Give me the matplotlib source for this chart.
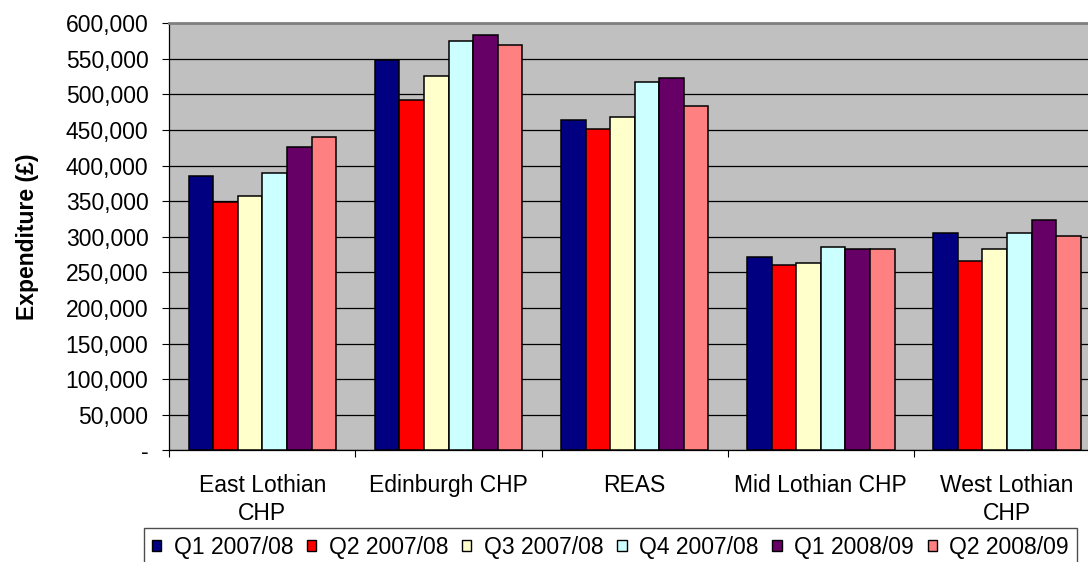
import matplotlib.pyplot as plt
import numpy as np
from matplotlib.patches import Patch
from matplotlib.ticker import FuncFormatter

plt.rcParams['font.family'] = ['Liberation Sans', 'DejaVu Sans']

# expenditure per provider and quarter
providers = ['East Lothian\nCHP', 'Edinburgh CHP', 'REAS', 'Mid Lothian CHP', 'West Lothian\nCHP']
quarters = ['Q1 2007/08', 'Q2 2007/08', 'Q3 2007/08', 'Q4 2007/08', 'Q1 2008/09', 'Q2 2008/09']

q1_0708 = [386000, 549000, 463500, 272000, 306000]
q2_0708 = [349000, 492000, 452000, 260500, 266000]
q3_0708 = [358000, 526500, 469000, 263500, 283000]
q4_0708 = [389000, 575000, 518000, 286000, 306000]
q1_0809 = [426000, 584000, 523000, 283000, 323500]
q2_0809 = [440500, 569000, 483500, 283000, 300500]

series = [q1_0708, q2_0708, q3_0708, q4_0708, q1_0809, q2_0809]
colours = ['#000080', '#FF0000', '#FFFFCC', '#CCFFFF', '#660066', '#FF8080']

W, H = 1088, 562
fig = plt.figure(figsize=(W / 100, H / 100), dpi=100)
ax = fig.add_axes([169.3 / W, 1 - 450.3 / H, (1100 - 169.3) / W, (450.3 - 23.3) / H])
ax.set_facecolor('#C0C0C0')

x = np.arange(len(providers))
bw = 0.132
for i, (vals, col) in enumerate(zip(series, colours)):
    ax.bar(x + (i - 2.5) * bw, vals, bw, color=col, edgecolor='black',
           linewidth=1.1, zorder=3)

ax.set_xlim(-0.5, len(providers) - 0.5)
ax.set_ylim(0, 600000)
ax.set_yticks(np.arange(0, 600001, 50000))
ax.yaxis.set_major_formatter(FuncFormatter(lambda v, p: '-' if v == 0 else f'{int(v):,}'))
ax.yaxis.grid(True, color='black', linewidth=0.9, zorder=1)

# category labels between the boundary ticks
ax.set_xticks(np.arange(-0.5, len(providers), 1.0))
ax.set_xticklabels([])
ax.set_xticks(x, minor=True)
ax.set_xticklabels(providers, minor=True, fontsize=16.5, linespacing=1.3)
ax.tick_params(axis='x', which='minor', length=0, pad=17)
ax.tick_params(axis='x', which='major', length=5, width=0.8, direction='out')
ax.tick_params(axis='y', length=5, width=0.8, direction='out', labelsize=16.5, pad=10)

ax.spines['top'].set_color('#808080')
ax.spines['top'].set_linewidth(2)
ax.spines['right'].set_visible(False)
ax.spines['left'].set_linewidth(0.9)
ax.spines['bottom'].set_linewidth(0.9)

fig.text(28 / W, 1 - 237 / H, 'Expenditure (£)', rotation=90, fontsize=16.5,
         fontweight='bold', ha='center', va='center')

handles = [Patch(facecolor=c, edgecolor='black', linewidth=1.0) for c in colours]
leg = fig.legend(handles, quarters, loc='upper left', bbox_to_anchor=(144 / W, 1 - 527.5 / H),
                 ncol=6, fontsize=16.5, frameon=True, fancybox=False, borderaxespad=0,
                 handlelength=0.4, handleheight=0.4, handletextpad=0.55, columnspacing=0.6,
                 borderpad=0.35)
leg.get_frame().set_edgecolor('#202020')
leg.get_frame().set_linewidth(1.0)

fig.savefig('out.png', dpi=100)
